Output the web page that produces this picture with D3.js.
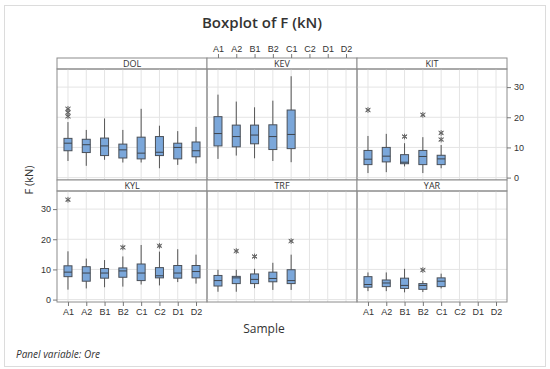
<!DOCTYPE html>
<html lang="en">
<head>
<meta charset="UTF-8">
<title>Boxplot of F (kN)</title>
<script src="https://cdn.jsdelivr.net/npm/d3@7"></script>
<style>
body { margin: 0; background: #fff; font-family: 'Open Sans', 'Noto Sans', sans-serif; }
svg text { fill: #333; }
</style>
</head>
<body>
<svg id="chart" width="550" height="369"></svg>
<script>
// categories
const samples = ["A1", "A2", "B1", "B2", "C1", "C2", "D1", "D2"];
const ores = ["DOL", "KEV", "KIT", "KYL", "TRF", "YAR"];
const yTicks = [0, 10, 20, 30];

// [sample, low whisker, Q1, median, Q3, high whisker]
const statsDOL = [
  ["A1", 5.5, 8.9, 11.4, 13.0, 18.4],
  ["A2", 3.9, 8.3, 10.9, 12.7, 15.8],
  ["B1", 5.9, 7.3, 10.5, 13.1, 19.6],
  ["B2", 5.0, 6.5, 9.2, 11.1, 15.8],
  ["C1", 5.0, 6.2, 8.1, 13.4, 22.8],
  ["C2", 3.1, 7.3, 8.4, 13.6, 17.2],
  ["D1", 4.2, 6.2, 10.0, 11.4, 15.4],
  ["D2", 4.7, 6.9, 8.9, 11.8, 16.8]
];
const statsKEV = [
  ["A1", 6.2, 10.5, 14.6, 20.2, 27.5],
  ["A2", 7.3, 10.2, 13.6, 17.4, 25.2],
  ["B1", 6.4, 11.2, 14.1, 17.4, 23.3],
  ["B2", 5.5, 9.3, 13.6, 17.5, 25.5],
  ["C1", 5.1, 9.6, 14.3, 22.4, 33.6]
];
const statsKIT = [
  ["A1", 1.5, 4.3, 6.1, 9.0, 13.8],
  ["A2", 1.8, 5.2, 7.1, 10.0, 14.5],
  ["B1", 3.7, 4.6, 5.1, 7.6, 11.4],
  ["B2", 1.5, 4.3, 7.0, 9.0, 13.4],
  ["C1", 3.1, 4.3, 6.2, 7.4, 10.8]
];
const statsKYL = [
  ["A1", 3.3, 7.6, 9.1, 11.2, 16.0],
  ["A2", 3.7, 6.1, 8.8, 10.9, 13.6],
  ["B1", 4.1, 7.1, 8.8, 10.3, 13.1],
  ["B2", 4.3, 7.4, 9.5, 10.5, 14.3],
  ["C1", 5.0, 6.3, 8.8, 11.8, 18.1],
  ["C2", 4.7, 7.2, 7.9, 10.6, 15.9],
  ["D1", 5.8, 7.1, 8.8, 11.3, 16.7],
  ["D2", 5.3, 7.2, 9.3, 11.3, 14.9]
];
const statsTRF = [
  ["A1", 2.6, 4.5, 6.3, 8.0, 9.9],
  ["A2", 2.6, 5.3, 7.2, 7.7, 9.9],
  ["B1", 3.8, 5.3, 6.7, 8.5, 10.2],
  ["B2", 3.2, 5.9, 7.0, 9.1, 12.2],
  ["C1", 3.2, 5.3, 6.3, 9.9, 14.9]
];
const statsYAR = [
  ["A1", 2.8, 4.1, 5.0, 7.6, 9.0],
  ["A2", 2.8, 4.3, 5.5, 6.5, 9.0],
  ["B1", 2.4, 3.7, 4.7, 7.1, 10.2],
  ["B2", 2.5, 3.4, 4.7, 5.3, 6.2],
  ["C1", 3.7, 4.3, 6.1, 7.2, 8.6]
];

// outliers: [sample, value]
const outDOL = [["A1", 22.8], ["A1", 21.6], ["A1", 20.3]];
const outKEV = [];
const outKIT = [["A1", 22.4], ["B1", 13.6], ["B2", 20.8], ["C1", 14.8], ["C1", 12.6]];
const outKYL = [["A1", 33.1], ["B2", 17.3], ["C2", 17.8]];
const outTRF = [["A2", 16.1], ["B1", 14.3], ["C1", 19.4]];
const outYAR = [["B2", 9.8]];

const panelStats = [statsDOL, statsKEV, statsKIT, statsKYL, statsTRF, statsYAR];
const panelOut = [outDOL, outKEV, outKIT, outKYL, outTRF, outYAR];

const svg = d3.select("#chart");

// layout
const colX = [57, 207, 357];
const rowY = [58, 180];
const panelW = 150, stripH = 11, plotH = 111;

const x = d3.scalePoint().domain(samples).range([0, panelW]).padding(0.6);
const y = d3.scaleLinear().domain([-0.8, 36]).range([plotH, 0]);

// outer frame
svg.append("rect")
  .attr("x", 4.5).attr("y", 5.5).attr("width", 541).attr("height", 361)
  .attr("fill", "#fff").attr("stroke", "#dcdcdc");

svg.append("text")
  .attr("x", 262).attr("y", 28)
  .attr("text-anchor", "middle")
  .attr("font-size", 15).attr("font-weight", 600)
  .text("Boxplot of F (kN)");

const asterisk = d3.symbol().type(d3.symbolAsterisk).size(22);
const times = d3.symbol().type(d3.symbolTimes).size(14);

const tickFont = sel => sel.call(s => s.select(".domain").remove())
  .call(s => s.selectAll("text").attr("font-size", 9).attr("font-family", null).attr("fill", "#333"))
  .call(s => s.selectAll("line").attr("stroke", "#777"));

ores.forEach((ore, i) => {
  const col = i % 3, row = Math.floor(i / 3);
  const g = svg.append("g").attr("transform", `translate(${colX[col]},${rowY[row]})`);

  // strip
  g.append("rect")
    .attr("width", panelW).attr("height", stripH)
    .attr("fill", "#fff").attr("stroke", "#8c8c8c");
  g.append("text")
    .attr("x", panelW / 2).attr("y", stripH - 2)
    .attr("text-anchor", "middle").attr("font-size", 9)
    .text(ore);

  // top axis sits above the strip of the middle panel
  if (i === 1) {
    g.append("g").call(d3.axisTop(x).tickSize(4).tickPadding(2)).call(tickFont);
  }

  const p = g.append("g").attr("transform", `translate(0,${stripH})`);

  // grid
  p.selectAll(".vg").data(samples).join("line")
    .attr("x1", d => x(d)).attr("x2", d => x(d))
    .attr("y1", 0).attr("y2", plotH)
    .attr("stroke", "#e4e4e4");
  p.selectAll(".hg").data(yTicks).join("line")
    .attr("x1", 0).attr("x2", panelW)
    .attr("y1", d => y(d)).attr("y2", d => y(d))
    .attr("stroke", "#e4e4e4");

  p.append("rect")
    .attr("width", panelW).attr("height", plotH)
    .attr("fill", "none").attr("stroke", "#8c8c8c");

  // boxes
  const bw = 8;
  const b = p.selectAll(".box").data(panelStats[i]).join("g")
    .attr("transform", d => `translate(${x(d[0])},0)`);
  b.append("line")
    .attr("y1", d => y(d[1])).attr("y2", d => y(d[5]))
    .attr("stroke", "#555").attr("stroke-width", 1);
  b.append("rect")
    .attr("x", -bw / 2).attr("width", bw)
    .attr("y", d => y(d[4])).attr("height", d => y(d[2]) - y(d[4]))
    .attr("fill", "#7ba7da").attr("stroke", "#4a4f57").attr("stroke-width", 1);
  b.append("line")
    .attr("x1", -bw / 2).attr("x2", bw / 2)
    .attr("y1", d => y(d[3])).attr("y2", d => y(d[3]))
    .attr("stroke", "#3e444c").attr("stroke-width", 1);

  // outliers
  const o = p.selectAll(".out").data(panelOut[i]).join("g")
    .attr("transform", d => `translate(${x(d[0])},${y(d[1])})`);
  o.append("path").attr("d", asterisk).attr("fill", "none").attr("stroke", "#666").attr("stroke-width", 1);
  o.append("path").attr("d", times).attr("fill", "none").attr("stroke", "#666").attr("stroke-width", 1);

  // axes
  if (i === 3 || i === 5) {
    p.append("g").attr("transform", `translate(0,${plotH})`)
      .call(d3.axisBottom(x).tickSize(4).tickPadding(3)).call(tickFont);
  }
  if (i === 3) {
    p.append("g").call(d3.axisLeft(y).tickValues(yTicks).tickSize(4).tickPadding(2)).call(tickFont);
  }
  if (i === 2) {
    p.append("g").attr("transform", `translate(${panelW},0)`)
      .call(d3.axisRight(y).tickValues(yTicks).tickSize(4).tickPadding(3)).call(tickFont);
  }
});

svg.append("text")
  .attr("transform", "translate(33,180) rotate(-90)")
  .attr("text-anchor", "middle").attr("font-size", 11)
  .text("F (kN)");

svg.append("text")
  .attr("x", 264).attr("y", 333)
  .attr("text-anchor", "middle").attr("font-size", 12)
  .text("Sample");

svg.append("text")
  .attr("x", 16).attr("y", 358)
  .attr("font-size", 10).attr("font-style", "italic")
  .text("Panel variable: Ore");
</script>
</body>
</html>
